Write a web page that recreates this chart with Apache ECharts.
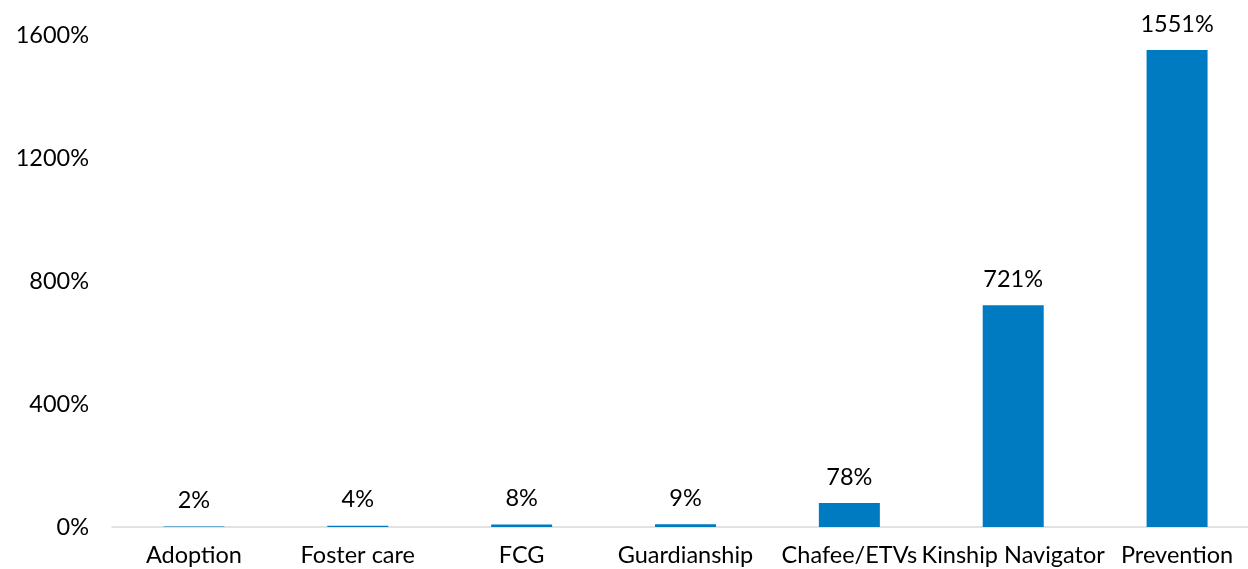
<!DOCTYPE html>
<html>
<head>
<meta charset="utf-8">
<script src="https://cdn.jsdelivr.net/npm/echarts@6/dist/echarts.min.js"></script>
<style>
  html, body { margin: 0; padding: 0; background: #fff; overflow: hidden; }
  #chart { width: 1259px; height: 569px; }
</style>
</head>
<body>
<div id="chart"></div>
<script>
// Percent change by program
const categories = ['Adoption', 'Foster care', 'FCG', 'Guardianship', 'Chafee/ETVs', 'Kinship Navigator', 'Prevention'];
const changePct = [2, 4, 8, 9, 78, 721, 1551];
const yTicks = [0, 400, 800, 1200, 1600];

const font = 'Lato, "Noto Sans", sans-serif';
const chart = echarts.init(document.getElementById('chart'));
chart.setOption({
  animation: false,
  grid: { left: 112, right: 0, top: 35, bottom: 42, containLabel: false },
  xAxis: {
    type: 'category',
    data: categories,
    axisLine: { lineStyle: { color: '#d9d9d9', width: 1.5 } },
    axisTick: { show: false },
    axisLabel: { color: '#000', fontFamily: font, fontSize: 23.5, margin: 16, interval: 0 }
  },
  yAxis: {
    type: 'value',
    min: yTicks[0],
    max: yTicks[yTicks.length - 1],
    interval: yTicks[1] - yTicks[0],
    axisLine: { show: false },
    axisTick: { show: false },
    splitLine: { show: false },
    axisLabel: {
      color: '#000', fontFamily: font, fontSize: 23.5, margin: 23,
      formatter: v => v + '%'
    }
  },
  series: [{
    type: 'bar',
    data: changePct,
    barWidth: 61,
    itemStyle: { color: '#007bc2' },
    label: {
      show: true,
      position: 'top',
      distance: 14,
      color: '#000',
      fontFamily: font,
      fontSize: 23.5,
      formatter: p => p.value + '%'
    }
  }]
});
</script>
</body>
</html>
